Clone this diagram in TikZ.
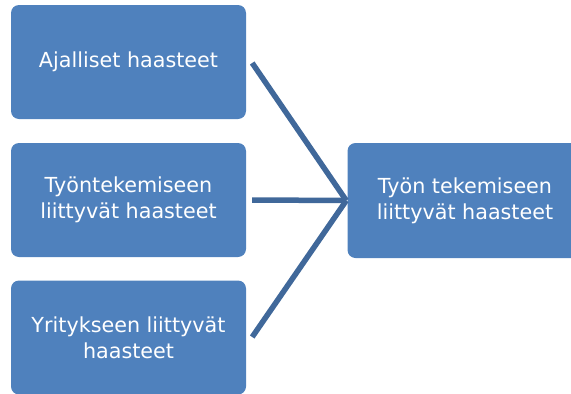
\documentclass[tikz,border=0pt]{standalone}
\usepackage{fontspec}
\setmainfont{DejaVu Sans}
\definecolor{boxblue}{RGB}{79,129,189}
\definecolor{lineblue}{RGB}{64,104,154}
\begin{document}
\begin{tikzpicture}[x=1pt,y=-1pt,
haaste/.style ={rectangle, fill=boxblue, text=white,
  minimum width=235pt, minimum height=114pt, rounded corners=8pt,
  align=center, inner sep=0pt,
  font=\fontsize{20.7}{26}\selectfont
},
yhdys/.style ={draw=lineblue, line width=5.5pt}]
\useasboundingbox (0,0) rectangle (571,394);
\clip (0,0) rectangle (571,394);
\node (a1) at (128.5,62) [haaste] {Ajalliset haasteet};
\node (a2) at (128.5,200) [haaste] {Työntekemiseen\\liittyvät haasteet};
\node (a3) at (128.5,337.5) [haaste] {Yritykseen liittyvät\\haasteet};
\node (t) at (465,200.5) [haaste, minimum height=115pt] {Työn tekemiseen\\liittyvät haasteet};
\coordinate (k) at ([xshift=-1pt]t.west);
\draw[yhdys] ([xshift=6pt,yshift=-1pt]a1.east) -- (k);
\draw[yhdys] ([xshift=6pt]a2.east) -- (k);
\draw[yhdys] ([xshift=6pt,yshift=0.5pt]a3.east) -- (k);
\end{tikzpicture}
\end{document}
